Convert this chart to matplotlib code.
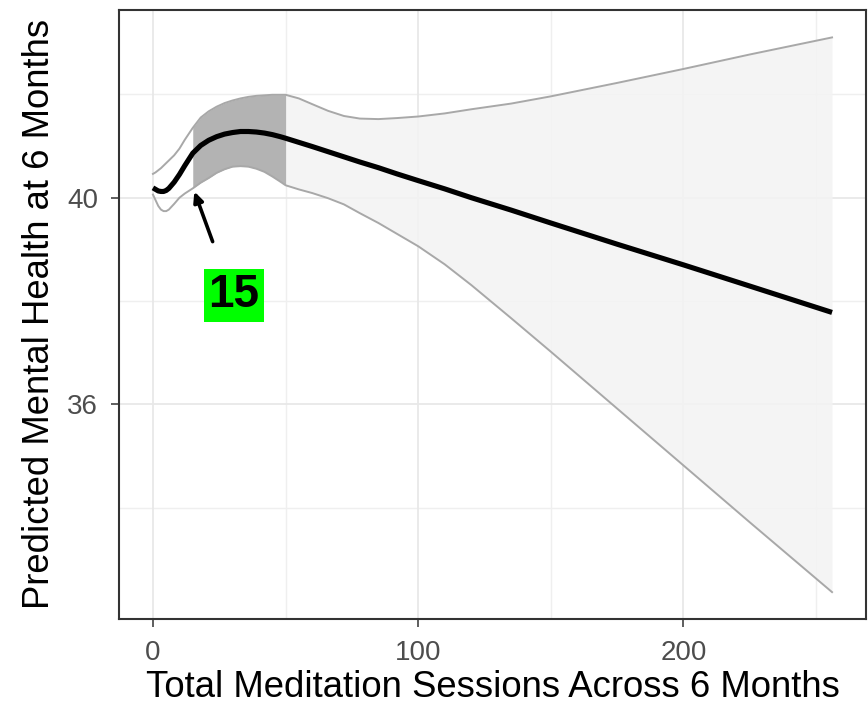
import matplotlib
matplotlib.use("Agg")
import matplotlib.pyplot as plt
import numpy as np

plt.rcParams['font.family'] = ['Liberation Sans', 'DejaVu Sans']

# Data
sessions = [0, 1, 2, 3, 4, 5, 6, 8, 10, 12, 15, 18, 21, 24, 27, 30, 33, 36, 39,
            42, 45, 48, 50, 55, 60, 66, 72, 78, 85, 92, 100, 110, 120, 135, 150,
            175, 200, 225, 256]
predicted = [40.19, 40.16, 40.13, 40.12, 40.12, 40.14, 40.18, 40.30, 40.45, 40.62,
             40.86, 41.01, 41.11, 41.18, 41.23, 41.26, 41.28, 41.28, 41.27, 41.25,
             41.22, 41.18, 41.15, 41.07, 40.99, 40.89, 40.79, 40.69, 40.58, 40.46,
             40.33, 40.17, 40.00, 39.76, 39.51, 39.10, 38.70, 38.29, 37.78]
upper = [40.46, 40.49, 40.53, 40.57, 40.62, 40.67, 40.72, 40.82, 40.95, 41.12,
         41.35, 41.55, 41.67, 41.76, 41.83, 41.88, 41.92, 41.95, 41.97, 41.98,
         41.99, 41.99, 41.99, 41.92, 41.81, 41.68, 41.58, 41.53, 41.52, 41.54,
         41.57, 41.63, 41.71, 41.82, 41.96, 42.22, 42.49, 42.77, 43.10]
lower = [40.06, 39.95, 39.84, 39.77, 39.74, 39.74, 39.77, 39.88, 40.00, 40.08,
         40.18, 40.29, 40.38, 40.48, 40.55, 40.60, 40.61, 40.60, 40.56, 40.50,
         40.41, 40.31, 40.24, 40.16, 40.09, 39.99, 39.87, 39.70, 39.51, 39.30,
         39.06, 38.71, 38.31, 37.67, 37.02, 35.92, 34.82, 33.72, 32.37]
highlight_range = (15, 50)
annot_label = "15"
arrow_tip = (15.6, 40.12)
arrow_tail = (22.5, 39.15)
label_pos = (30.4, 38.11)

x_ticks = [0, 100, 200]
x_minor = [50, 150, 250]
y_ticks = [36, 40]
y_minor = [34, 38, 42]

x = np.array(sessions, dtype=float)
m = np.array(predicted)
u = np.array(upper)
l = np.array(lower)

fig = plt.figure(figsize=(8.68, 7.07), dpi=100)
ax = fig.add_axes([119/868, 1 - 619/707, (866-119)/868, (619-9.5)/707])

ax.set_xlim(-12.8, 268.8)
ax.set_ylim(31.85, 43.64)

# grid
for v in x_minor:
    ax.axvline(v, color='#efefef', lw=1.0, zorder=0)
for v in y_minor:
    ax.axhline(v, color='#efefef', lw=1.0, zorder=0)
for v in x_ticks:
    ax.axvline(v, color='#e8e8e8', lw=1.3, zorder=0)
for v in y_ticks:
    ax.axhline(v, color='#e8e8e8', lw=1.3, zorder=0)

lo, hi = highlight_range
mask_light = x >= hi
ax.fill_between(x[mask_light], l[mask_light], u[mask_light], color='#f3f3f3',
                lw=0, zorder=1, alpha=0.85)
mask_dark = (x >= lo) & (x <= hi)
ax.fill_between(x[mask_dark], l[mask_dark], u[mask_dark], color='#b3b3b3',
                lw=0, zorder=2)

ax.plot(x, u, color='#a8a8a8', lw=1.4, zorder=3)
ax.plot(x, l, color='#a8a8a8', lw=1.4, zorder=3)
ax.plot(x, m, color='black', lw=3.7, zorder=4, solid_capstyle='butt',
        solid_joinstyle='round')

ax.annotate('', xy=arrow_tip, xytext=arrow_tail,
            arrowprops=dict(arrowstyle='-|>,head_length=0.6,head_width=0.28',
                            color='black', lw=2.6, shrinkA=0, shrinkB=0),
            zorder=6)
ax.text(label_pos[0], label_pos[1], annot_label, ha='center', va='center',
        fontsize=33, fontweight='bold', color='black', zorder=6,
        bbox=dict(boxstyle='square,pad=0.1', fc='#00ff00', ec='none'))

ax.set_xticks(x_ticks)
ax.set_yticks(y_ticks)
ax.tick_params(axis='both', length=6, width=1.1, color='#333333',
               labelcolor='#4d4d4d', labelsize=20)
ax.tick_params(axis='x', pad=9)
ax.tick_params(axis='y', pad=9)

for s in ax.spines.values():
    s.set_color('#333333')
    s.set_linewidth(1.5)

ax.set_xlabel('Total Meditation Sessions Across 6 Months', fontsize=26.3,
              color='black', labelpad=3)
ax.set_ylabel('Predicted Mental Health at 6 Months', fontsize=26.3,
              color='black', labelpad=7)

fig.savefig('out.png', dpi=100)
